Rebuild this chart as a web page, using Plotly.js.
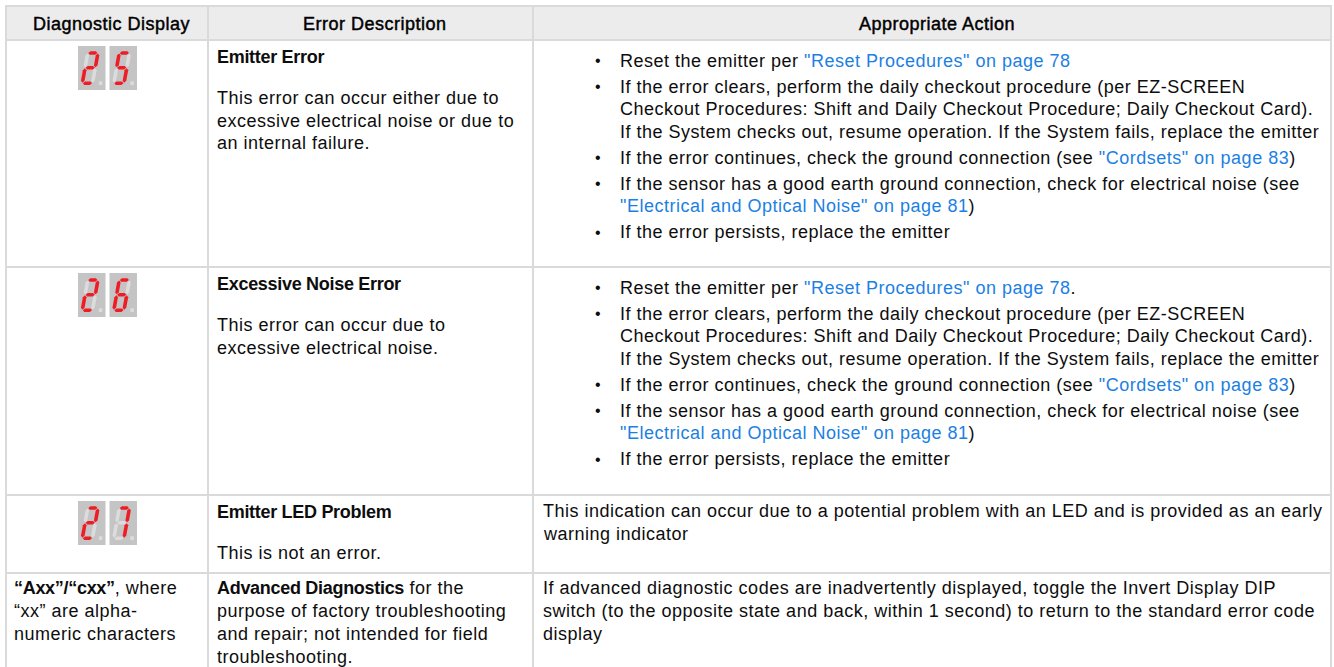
<!DOCTYPE html>
<html><head><meta charset="utf-8">
<script src="https://cdn.plot.ly/plotly-3.0.1.min.js"></script>
<style>
html,body{margin:0;padding:0;background:#fff;}
#chart{width:1334px;height:667px;}
#chart .annotation-text{letter-spacing:0.5px;}
#chart .annotation-text tspan[style*="bold"]{letter-spacing:-0.3px;}
#chart .annotation[data-index="0"] text,
#chart .annotation[data-index="1"] text,
#chart .annotation[data-index="2"] text{stroke:#000;stroke-width:0.45px;}
</style>
</head><body><div id="chart"></div>
<script>
// ---------------- data ----------------
const headers = ["Diagnostic Display", "Error Description", "Appropriate Action"];
const displayCodes = ["25", "26", "27", ""];
const displayLines = [[], [], [], ["<b>“Axx”/“cxx”</b>, where", "“xx” are alpha-", "numeric characters"]];
const errorTitles = ["Emitter Error", "Excessive Noise Error", "Emitter LED Problem", ""];
const errorLines = [
  ["This error can occur either due to", "excessive electrical noise or due to", "an internal failure."],
  ["This error can occur due to", "excessive electrical noise."],
  ["This is not an error."],
  ["<b>Advanced Diagnostics</b> for the", "purpose of factory troubleshooting", "and repair; not intended for field", "troubleshooting."]
];
const LINK_COLOR = "#1c7fe3";
function link(t) { return '<span style="color:' + LINK_COLOR + '">' + t + '</span>'; }
const bulletsEmitter = [
  ["Reset the emitter per " + link('"Reset Procedures" on page 78')],
  ["If the error clears, perform the daily checkout procedure (per EZ-SCREEN",
   "Checkout Procedures: Shift and Daily Checkout Procedure; Daily Checkout Card).",
   "If the System checks out, resume operation. If the System fails, replace the emitter"],
  ["If the error continues, check the ground connection (see " + link('"Cordsets" on page 83') + ")"],
  ["If the sensor has a good earth ground connection, check for electrical noise (see",
   link('"Electrical and Optical Noise" on page 81') + ")"],
  ["If the error persists, replace the emitter"]
];
const bulletsNoise = [
  ["Reset the emitter per " + link('"Reset Procedures" on page 78') + "."],
  ["If the error clears, perform the daily checkout procedure (per EZ-SCREEN",
   "Checkout Procedures: Shift and Daily Checkout Procedure; Daily Checkout Card).",
   "If the System checks out, resume operation. If the System fails, replace the emitter"],
  ["If the error continues, check the ground connection (see " + link('"Cordsets" on page 83') + ")"],
  ["If the sensor has a good earth ground connection, check for electrical noise (see",
   link('"Electrical and Optical Noise" on page 81') + ")"],
  ["If the error persists, replace the emitter"]
];
const actionBullets = [bulletsEmitter, bulletsNoise, null, null];
const actionLines = [[], [],
  ["This indication can occur due to a potential problem with an LED and is provided as an early", "warning indicator"],
  ["If advanced diagnostic codes are inadvertently displayed, toggle the Invert Display DIP",
   "switch (to the opposite state and back, within 1 second) to return to the standard error code",
   "display"]];

// ---------------- layout / style ----------------
const W = 1334, H = 667;
const colX = [6, 208, 533, 1331];
const rowY = [6, 40, 267, 495, 573, 667];
const GRID = "#dadada", HEAD_BG = "#ececec", TXT = "#0d0d0d";
const FONT = "Liberation Sans, Arial, Helvetica, sans-serif";
const FS = 18, LH = 22.6, BGAP = 26;
const PAD = 8, BULLET_X = 598, BULLET_TXT_X = 619;

const shapes = [], annotations = [];

// header background
shapes.push({type: "rect", xref: "x", yref: "y", x0: colX[0], x1: colX[3], y0: rowY[0], y1: rowY[1],
  fillcolor: HEAD_BG, line: {width: 0}, layer: "below"});
// grid lines
rowY.slice(0, 5).forEach(y => shapes.push({type: "line", xref: "x", yref: "y", x0: colX[0] - 1, x1: colX[3] + 1, y0: y, y1: y,
  line: {color: GRID, width: 2}}));
colX.forEach(x => shapes.push({type: "line", xref: "x", yref: "y", x0: x, x1: x, y0: rowY[0], y1: rowY[5],
  line: {color: GRID, width: 2}}));

function txt(x, y, text, opts) {
  annotations.push(Object.assign({xref: "x", yref: "y", x: x, y: y, text: text, showarrow: false,
    xanchor: "left", yanchor: "middle", align: "left", borderpad: 0,
    font: {family: FONT, size: FS, color: TXT}}, opts || {}));
}

// headers (annotations 0..2)
headers.forEach((h, i) => txt((colX[i] + colX[i + 1]) / 2, (rowY[0] + rowY[1]) / 2 + 0.5, h,
  {xanchor: "center", font: {family: FONT, size: 18, color: "#000"}}));

// ---- 7-segment glyph ----
const SEGMAP = {"0": "abcdef", "1": "bc", "2": "abged", "3": "abgcd", "4": "fgbc", "5": "afgcd",
  "6": "afgedc", "7": "abc", "8": "abcdefg", "9": "abcdfg"};
const BOX_W = 27.5, BOX_H = 44, BOX_GAP = 4;
const SEG = {x0: 2.2, x1: 16.0, y0: 5.2, ym: 21.8, y1: 39.0, t: 3.6, g: 0.55, k: 0.18};
function segPolys() {
  const s = SEG, h = s.t / 2;
  const hor = (yc) => { const xa = s.x0 + h + s.g, xb = s.x1 - h - s.g;
    return [[xa, yc], [xa + h, yc - h], [xb - h, yc - h], [xb, yc], [xb - h, yc + h], [xa + h, yc + h]]; };
  const ver = (xc, ya, yb) => [[xc, ya], [xc + h, ya + h], [xc + h, yb - h], [xc, yb], [xc - h, yb - h], [xc - h, ya + h]];
  const L = s.x0 + h, R = s.x1 - h;
  return {
    a: hor(s.y0 + h), g: hor(s.ym), d: hor(s.y1 - h),
    f: ver(L, s.y0 + h + s.g, s.ym - s.g), b: ver(R, s.y0 + h + s.g, s.ym - s.g),
    e: ver(L, s.ym + s.g, s.y1 - h - s.g), c: ver(R, s.ym + s.g, s.y1 - h - s.g)
  };
}
const POLYS = segPolys();
function drawDigit(ch, bx, by) {
  shapes.push({type: "rect", xref: "x", yref: "y", x0: bx, x1: bx + BOX_W, y0: by, y1: by + BOX_H,
    fillcolor: "#c4c4c4", line: {width: 0}});
  const on = SEGMAP[ch] || "";
  "abcdefg".split("").forEach(seg => {
    const pts = POLYS[seg].map(([x, y]) => [bx + x + SEG.k * (SEG.y1 - y), by + y]);
    const p = "M" + pts.map(q => q[0].toFixed(2) + "," + q[1].toFixed(2)).join("L") + "Z";
    shapes.push({type: "path", xref: "x", yref: "y", path: p,
      fillcolor: on.indexOf(seg) >= 0 ? "#ee1c25" : "#dcdcdc", line: {width: 0}});
  });
  // decimal point
  shapes.push({type: "rect", xref: "x", yref: "y", x0: bx + 20.8, x1: bx + 24.4, y0: by + 35.3, y1: by + 39.0,
    fillcolor: "#dcdcdc", line: {width: 0}});
}

// ---- rows ----
for (let r = 0; r < 4; r++) {
  const top = rowY[r + 1];
  // column 1
  const code = displayCodes[r];
  if (code) {
    const total = code.length * BOX_W + (code.length - 1) * BOX_GAP;
    let bx = (colX[0] + colX[1]) / 2 - total / 2 + 0.5;
    code.split("").forEach(ch => { drawDigit(ch, bx, top + 6); bx += BOX_W + BOX_GAP; });
  }
  displayLines[r].forEach((l, i) => txt(colX[0] + PAD - 1, top + 15 + i * 23, l));
  // column 2
  if (errorTitles[r]) {
    txt(colX[1] + PAD, top + 17, "<b>" + errorTitles[r] + "</b>");
    errorLines[r].forEach((l, i) => txt(colX[1] + PAD, top + 58 + i * LH, l));
  } else {
    errorLines[r].forEach((l, i) => txt(colX[1] + PAD, top + 15 + i * 23, l));
  }
  // column 3
  if (actionBullets[r]) {
    let y = top + 20.5;
    actionBullets[r].forEach(b => {
      txt(BULLET_X, y, "•", {xanchor: "center", font: {family: FONT, size: 16, color: TXT}});
      b.forEach((l) => { txt(BULLET_TXT_X, y, l); y += LH; });
      y += BGAP - LH;
    });
  } else {
    actionLines[r].forEach((l, i) => txt(colX[2] + PAD + 1, top + (r === 3 ? 15 : 16) + i * 23, l));
  }
}

const data = [{type: "scatter", mode: "markers", x: [0, W], y: [0, H], marker: {opacity: 0}, hoverinfo: "skip", showlegend: false}];
const layout = {
  width: W, height: H, margin: {l: 0, r: 0, t: 0, b: 0},
  paper_bgcolor: "#ffffff", plot_bgcolor: "#ffffff", showlegend: false,
  xaxis: {range: [0, W], visible: false, fixedrange: true},
  yaxis: {range: [H, 0], visible: false, fixedrange: true},
  shapes: shapes, annotations: annotations
};
Plotly.newPlot("chart", data, layout, {displayModeBar: false, staticPlot: true});
</script>
</body></html>
